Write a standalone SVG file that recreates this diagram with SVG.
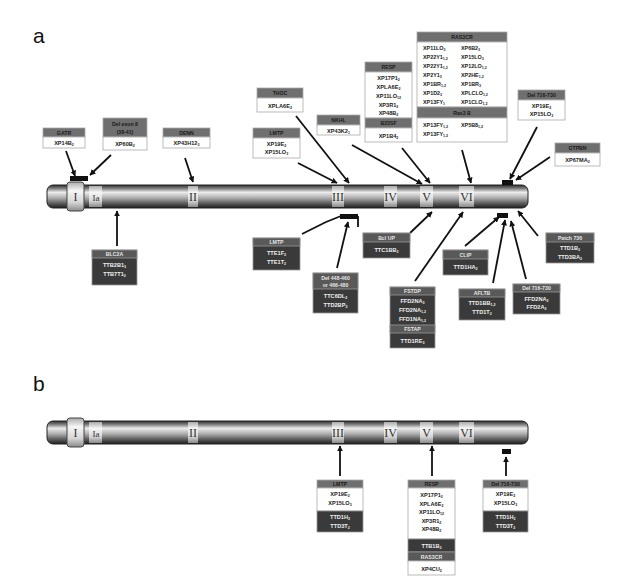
<svg xmlns="http://www.w3.org/2000/svg" xmlns:xlink="http://www.w3.org/1999/xlink" width="621" height="577" viewBox="0 0 621 577">
<style>
.lbl{font-family:"Liberation Sans",Arial,sans-serif;font-size:21px;fill:#111}
.hd{fill:#6f6f6f;stroke:#aaa;stroke-width:0.8}
.hdd{fill:#595959;stroke:#999;stroke-width:0.8}
.wb{fill:#fff;stroke:#aaa;stroke-width:0.8}
.db{fill:#3a3a3a;stroke:#999;stroke-width:0.8}
.ht{font-family:"Liberation Sans",Arial,sans-serif;font-weight:bold;font-size:5.2px;fill:#1a1a1a;text-anchor:middle}
.htl{font-family:"Liberation Sans",Arial,sans-serif;font-weight:bold;font-size:5.2px;fill:#e6e6e6;text-anchor:middle}
.bt{font-family:"Liberation Sans",Arial,sans-serif;font-weight:bold;font-size:5.6px;fill:#1a1a1a;text-anchor:middle}
.btl{font-family:"Liberation Sans",Arial,sans-serif;font-weight:bold;font-size:5.6px;fill:#eee;text-anchor:middle}
.bts{font-family:"Liberation Sans",Arial,sans-serif;font-weight:bold;font-size:5.4px;fill:#1a1a1a}
.s{font-size:3.6px}
.rn{font-family:"Liberation Serif","Times New Roman",serif;font-size:12px;fill:#333;text-anchor:middle}
.ar{stroke:#111;stroke-width:1.8;fill:none;marker-end:url(#ah)}
.ln{stroke:#111;stroke-width:1.8;fill:none}
.bar{fill:#111}
</style>
<defs>
<linearGradient id="gb" x1="0" y1="0" x2="0" y2="1">
<stop offset="0" stop-color="#2e2e2e"/>
<stop offset="0.14" stop-color="#777"/>
<stop offset="0.32" stop-color="#ececec"/>
<stop offset="0.55" stop-color="#b0b0b0"/>
<stop offset="0.82" stop-color="#555"/>
<stop offset="1" stop-color="#1e1e1e"/>
</linearGradient>
<linearGradient id="gband" x1="0" y1="0" x2="0" y2="1">
<stop offset="0" stop-color="#aaa"/>
<stop offset="0.3" stop-color="#f6f6f6"/>
<stop offset="0.7" stop-color="#d6d6d6"/>
<stop offset="1" stop-color="#8a8a8a"/>
</linearGradient>
<marker id="ah" viewBox="0 0 10 10" refX="9" refY="5" markerWidth="6" markerHeight="6" markerUnits="userSpaceOnUse" orient="auto">
<path d="M0,0 L10,5 L0,10 z" fill="#111"/>
</marker>
<g id="chromo">
<rect x="47" y="185" width="481" height="23" rx="6" fill="url(#gb)" stroke="#222" stroke-width="1"/>
<rect x="67" y="182" width="17" height="29" rx="3" fill="url(#gband)" stroke="#444" stroke-width="1"/>
<text class="rn" x="75.5" y="201">I</text>
<rect x="89" y="186" width="13" height="21" fill="url(#gband)"/>
<text class="rn" x="96" y="201" style="font-size:9px">Ia</text>
<rect x="188" y="186" width="10" height="21" fill="url(#gband)"/>
<text class="rn" x="193" y="201">II</text>
<rect x="332" y="186" width="12" height="21" fill="url(#gband)"/>
<text class="rn" x="338" y="201">III</text>
<rect x="384" y="186" width="13" height="21" fill="url(#gband)"/>
<text class="rn" x="390.5" y="201">IV</text>
<rect x="420" y="186" width="13" height="21" fill="url(#gband)"/>
<text class="rn" x="426.5" y="201">V</text>
<rect x="459" y="186" width="15" height="21" fill="url(#gband)"/>
<text class="rn" x="466.5" y="201">VI</text>
</g>
</defs>

<text class="lbl" x="33" y="43">a</text>
<text class="lbl" x="33" y="391">b</text>

<g id="chromosome-a"><use xlink:href="#chromo" href="#chromo"/></g>
<g id="chromosome-b"><use xlink:href="#chromo" href="#chromo" transform="translate(0,236)"/></g>

<g id="connectors">
<!-- a, above -->
<rect class="bar" x="70" y="176" width="18" height="5"/>
<line class="ar" x1="66" y1="151" x2="75" y2="176"/>
<line class="ar" x1="111" y1="155" x2="90" y2="175"/>
<line class="ar" x1="185" y1="158" x2="193" y2="182"/>
<line class="ar" x1="296" y1="116" x2="349" y2="183"/>
<line class="ar" x1="298" y1="163" x2="337" y2="183"/>
<line class="ar" x1="352" y1="145" x2="422" y2="184"/>
<line class="ar" x1="402" y1="148" x2="430" y2="183"/>
<line class="ar" x1="462" y1="150" x2="471" y2="183"/>
<rect class="bar" x="502" y="180" width="11" height="5"/>
<line class="ar" x1="537" y1="127" x2="510" y2="179"/>
<line class="ar" x1="550" y1="157" x2="516" y2="180"/>
<!-- a, below -->
<line class="ar" x1="117" y1="246" x2="117" y2="211"/>
<rect class="bar" x="340" y="214" width="18" height="5"/>
<polyline class="ln" points="302,234 326,222 341,216"/>
<line class="ln" x1="358" y1="216" x2="358" y2="227"/>
<line class="ar" x1="337" y1="268" x2="348" y2="222"/>
<line class="ar" x1="410" y1="233" x2="432" y2="212"/>
<line class="ar" x1="415" y1="281" x2="463" y2="212"/>
<rect class="bar" x="497" y="213" width="11" height="5"/>
<line class="ar" x1="465" y1="246" x2="499" y2="217"/>
<line class="ar" x1="493" y1="283" x2="505" y2="220"/>
<line class="ar" x1="526" y1="279" x2="511" y2="221"/>
<line class="ar" x1="538" y1="236" x2="518" y2="211"/>
<!-- b -->
<line class="ar" x1="340" y1="476" x2="340" y2="446"/>
<line class="ar" x1="432" y1="476" x2="432" y2="446"/>
<rect class="bar" x="502" y="449" width="9" height="5"/>
<line class="ar" x1="506" y1="476" x2="506" y2="457"/>
</g>

<!-- ===== a: boxes above ===== -->
<g id="box-gatr">
<rect class="hd" x="43" y="128" width="42" height="9"/>
<rect class="wb" x="43" y="137" width="42" height="11"/>
<text class="ht" x="64" y="134.5">GATR</text>
<text class="bt" x="64" y="145">XP14B<tspan class="s" dy="1.2">2</tspan></text>
</g>
<g id="box-delexon8">
<rect class="hd" x="103" y="118" width="44" height="19"/>
<rect class="wb" x="103" y="137" width="44" height="13"/>
<text class="ht" x="125" y="126">Del exon 8</text>
<text class="ht" x="125" y="133.5">(38-41)</text>
<text class="bt" x="125" y="146">XP60B<tspan class="s" dy="1.2">2</tspan></text>
</g>
<g id="box-denn">
<rect class="hd" x="163" y="128" width="47" height="9"/>
<rect class="wb" x="163" y="137" width="47" height="11"/>
<text class="ht" x="186.5" y="134.5">DENN</text>
<text class="bt" x="186.5" y="145">XP43H12<tspan class="s" dy="1.2">3</tspan></text>
</g>
<g id="box-thoc">
<rect class="hd" x="257" y="88" width="46" height="10"/>
<rect class="wb" x="257" y="98" width="46" height="14"/>
<text class="ht" x="280" y="95">THOC</text>
<text class="bt" x="280" y="107.5">XPLA6E<tspan class="s" dy="1.2">2</tspan></text>
</g>
<g id="box-lmtp-a">
<rect class="hd" x="253" y="128" width="47" height="10"/>
<rect class="wb" x="253" y="138" width="47" height="20"/>
<text class="ht" x="276.5" y="135">LMTP</text>
<text class="bt" x="276.5" y="146">XP19E<tspan class="s" dy="1.2">2</tspan></text>
<text class="bt" x="276.5" y="154">XP15LO<tspan class="s" dy="1.2">3</tspan></text>
</g>
<g id="box-nkhl">
<rect class="hd" x="317" y="115" width="43" height="10"/>
<rect class="wb" x="317" y="125" width="43" height="10"/>
<text class="ht" x="338.5" y="122">NKHL</text>
<text class="bt" x="338.5" y="132.5">XP43K2<tspan class="s" dy="1.2">1</tspan></text>
</g>
<g id="box-resp-a">
<rect class="hd" x="365" y="62" width="47" height="10"/>
<rect class="wb" x="365" y="72" width="47" height="46"/>
<rect class="hd" x="365" y="118" width="47" height="10"/>
<rect class="wb" x="365" y="128" width="47" height="14"/>
<text class="ht" x="388.5" y="69">RESP</text>
<text class="bt" x="388.5" y="80">XP17P1<tspan class="s" dy="1.2">2</tspan></text>
<text class="bt" x="388.5" y="89">XPLA6E<tspan class="s" dy="1.2">2</tspan></text>
<text class="bt" x="388.5" y="98">XP11LO<tspan class="s" dy="1.2">12</tspan></text>
<text class="bt" x="388.5" y="107">XP3R1<tspan class="s" dy="1.2">2</tspan></text>
<text class="bt" x="388.5" y="115">XP48B<tspan class="s" dy="1.2">2</tspan></text>
<text class="ht" x="388.5" y="125">B23SF</text>
<text class="bt" x="388.5" y="137.5">XP1B4<tspan class="s" dy="1.2">2</tspan></text>
</g>
<g id="box-ras3cr">
<rect class="hd" x="417" y="32" width="90" height="10"/>
<rect class="wb" x="417" y="42" width="90" height="65"/>
<rect class="hd" x="417" y="107" width="90" height="11"/>
<rect class="wb" x="417" y="118" width="90" height="24"/>
<text class="ht" x="462" y="39">RAS3CR</text>
<text class="bts" x="423" y="50">XP11LO<tspan class="s" dy="1.2">3</tspan></text>
<text class="bts" x="423" y="59">XP22Y1<tspan class="s" dy="1.2">1,2</tspan></text>
<text class="bts" x="423" y="68">XP22Y1<tspan class="s" dy="1.2">1,2</tspan></text>
<text class="bts" x="423" y="77">XP2Y1<tspan class="s" dy="1.2">3</tspan></text>
<text class="bts" x="423" y="86">XP1BR<tspan class="s" dy="1.2">1,2</tspan></text>
<text class="bts" x="423" y="95">XP1D2<tspan class="s" dy="1.2">3</tspan></text>
<text class="bts" x="423" y="104">XP13FY<tspan class="s" dy="1.2">1</tspan></text>
<text class="bts" x="461" y="50">XP6B2<tspan class="s" dy="1.2">3</tspan></text>
<text class="bts" x="461" y="59">XP15LO<tspan class="s" dy="1.2">3</tspan></text>
<text class="bts" x="461" y="68">XP12LO<tspan class="s" dy="1.2">1,2</tspan></text>
<text class="bts" x="461" y="77">XP2HE<tspan class="s" dy="1.2">1,2</tspan></text>
<text class="bts" x="461" y="86">XP1BR<tspan class="s" dy="1.2">3</tspan></text>
<text class="bts" x="461" y="95">XPLCLO<tspan class="s" dy="1.2">1,2</tspan></text>
<text class="bts" x="461" y="104">XP1CLO<tspan class="s" dy="1.2">1,2</tspan></text>
<text class="ht" x="462" y="115">Ras3 B</text>
<text class="bts" x="423" y="127">XP13FY<tspan class="s" dy="1.2">1,2</tspan></text>
<text class="bts" x="461" y="127">XP5B8<tspan class="s" dy="1.2">1,2</tspan></text>
<text class="bts" x="423" y="136">XP13FY<tspan class="s" dy="1.2">1,2</tspan></text>
</g>
<g id="box-del716-a">
<rect class="hd" x="518" y="90" width="47" height="10"/>
<rect class="wb" x="518" y="100" width="47" height="20"/>
<text class="ht" x="541.5" y="97">Del 716-730</text>
<text class="bt" x="541.5" y="108">XP19E<tspan class="s" dy="1.2">2</tspan></text>
<text class="bt" x="541.5" y="116">XP15LO<tspan class="s" dy="1.2">3</tspan></text>
</g>
<g id="box-gtpbn">
<rect class="hd" x="555" y="143" width="45" height="10"/>
<rect class="wb" x="555" y="153" width="45" height="13"/>
<text class="ht" x="577.5" y="150">GTPBN</text>
<text class="bt" x="577.5" y="162">XP67MA<tspan class="s" dy="1.2">2</tspan></text>
</g>

<!-- ===== a: boxes below ===== -->
<g id="box-blc2a">
<rect class="db" x="92" y="250" width="45" height="35"/>
<rect class="hdd" x="92" y="250" width="45" height="8"/>
<text class="htl" x="114.5" y="256">BLC2A</text>
<text class="btl" x="114.5" y="267">TTB2B1<tspan class="s" dy="1.2">3</tspan></text>
<text class="btl" x="114.5" y="276">TTB7T1<tspan class="s" dy="1.2">2</tspan></text>
</g>
<g id="box-lmtp-dark">
<rect class="db" x="253" y="238" width="47" height="32"/>
<rect class="hdd" x="253" y="238" width="47" height="8"/>
<text class="htl" x="276.5" y="244">LMTP</text>
<text class="btl" x="276.5" y="255">TTE1F<tspan class="s" dy="1.2">2</tspan></text>
<text class="btl" x="276.5" y="264">TTE1T<tspan class="s" dy="1.2">2</tspan></text>
</g>
<g id="box-del448">
<rect class="db" x="313" y="273" width="45" height="40"/>
<rect class="hdd" x="313" y="273" width="45" height="16"/>
<text class="htl" x="335.5" y="280">Del 448-460</text>
<text class="htl" x="335.5" y="287">or 466-480</text>
<text class="btl" x="335.5" y="298">TTC6DL<tspan class="s" dy="1.2">2</tspan></text>
<text class="btl" x="335.5" y="307">TTD2BP<tspan class="s" dy="1.2">2</tspan></text>
</g>
<g id="box-bclup">
<rect class="db" x="363" y="233" width="47" height="25"/>
<rect class="hdd" x="363" y="233" width="47" height="9"/>
<text class="htl" x="386.5" y="239.5">Bcl UP</text>
<text class="btl" x="386.5" y="252">TTC1BB<tspan class="s" dy="1.2">3</tspan></text>
</g>
<g id="box-fstdp">
<rect class="db" x="390" y="287" width="45" height="61"/>
<rect class="hdd" x="390" y="287" width="45" height="8"/>
<rect class="hdd" x="390" y="325" width="45" height="8"/>
<text class="htl" x="412.5" y="293">FSTDP</text>
<text class="btl" x="412.5" y="303">FFD2NA<tspan class="s" dy="1.2">3</tspan></text>
<text class="btl" x="412.5" y="312">FFD2NA<tspan class="s" dy="1.2">1,2</tspan></text>
<text class="btl" x="412.5" y="321">FFD1NA<tspan class="s" dy="1.2">1,2</tspan></text>
<text class="htl" x="412.5" y="331">FSTAP</text>
<text class="btl" x="412.5" y="343">TTD1RE<tspan class="s" dy="1.2">3</tspan></text>
</g>
<g id="box-clip">
<rect class="db" x="443" y="250" width="45" height="25"/>
<rect class="hdd" x="443" y="250" width="45" height="9"/>
<text class="htl" x="465.5" y="256.5">CLIP</text>
<text class="btl" x="465.5" y="269">TTD1HA<tspan class="s" dy="1.2">2</tspan></text>
</g>
<g id="box-afltb">
<rect class="db" x="459" y="289" width="46" height="31"/>
<rect class="hdd" x="459" y="289" width="46" height="8"/>
<text class="htl" x="482" y="295">AFLTB</text>
<text class="btl" x="482" y="305">TTD1BB<tspan class="s" dy="1.2">1,2</tspan></text>
<text class="btl" x="482" y="314">TTD1T<tspan class="s" dy="1.2">2</tspan></text>
</g>
<g id="box-del716-dark">
<rect class="db" x="513" y="284" width="47" height="30"/>
<rect class="hdd" x="513" y="284" width="47" height="8"/>
<text class="htl" x="536.5" y="290">Del 716-730</text>
<text class="btl" x="536.5" y="301">FFD2NA<tspan class="s" dy="1.2">2</tspan></text>
<text class="btl" x="536.5" y="309">FFD2A<tspan class="s" dy="1.2">2</tspan></text>
</g>
<g id="box-patch736">
<rect class="db" x="546" y="233" width="48" height="30"/>
<rect class="hdd" x="546" y="233" width="48" height="9"/>
<text class="htl" x="570" y="239.5">Patch 736</text>
<text class="btl" x="570" y="250">TTD1B<tspan class="s" dy="1.2">3</tspan></text>
<text class="btl" x="570" y="259">TTD3BA<tspan class="s" dy="1.2">2</tspan></text>
</g>

<!-- ===== b: boxes ===== -->
<g id="box-lmtp-b">
<rect class="hd" x="317" y="480" width="46" height="8"/>
<rect class="wb" x="317" y="488" width="46" height="23"/>
<rect class="db" x="317" y="511" width="46" height="21"/>
<text class="ht" x="340" y="486">LMTP</text>
<text class="bt" x="340" y="496">XP19E<tspan class="s" dy="1.2">2</tspan></text>
<text class="bt" x="340" y="505">XP15LO<tspan class="s" dy="1.2">3</tspan></text>
<text class="btl" x="340" y="519">TTD1H<tspan class="s" dy="1.2">2</tspan></text>
<text class="btl" x="340" y="528">TTD3T<tspan class="s" dy="1.2">2</tspan></text>
</g>
<g id="box-resp-b">
<rect class="hd" x="408" y="480" width="47" height="8"/>
<rect class="wb" x="408" y="488" width="47" height="51"/>
<rect class="db" x="408" y="539" width="47" height="13"/>
<rect class="hdd" x="408" y="552" width="47" height="9"/>
<rect class="wb" x="408" y="561" width="47" height="14"/>
<text class="ht" x="431.5" y="486">RESP</text>
<text class="bt" x="431.5" y="497">XP17P1<tspan class="s" dy="1.2">2</tspan></text>
<text class="bt" x="431.5" y="505.5">XPLA6E<tspan class="s" dy="1.2">2</tspan></text>
<text class="bt" x="431.5" y="514">XP11LO<tspan class="s" dy="1.2">12</tspan></text>
<text class="bt" x="431.5" y="522.5">XP3R1<tspan class="s" dy="1.2">2</tspan></text>
<text class="bt" x="431.5" y="531">XP48B<tspan class="s" dy="1.2">2</tspan></text>
<text class="btl" x="431.5" y="547.5">TTB1B<tspan class="s" dy="1.2">3</tspan></text>
<text class="htl" x="431.5" y="558.5">RAS3CR</text>
<text class="bt" x="431.5" y="570.5">XP4CU<tspan class="s" dy="1.2">2</tspan></text>
</g>
<g id="box-del716-b">
<rect class="hd" x="483" y="480" width="45" height="8"/>
<rect class="wb" x="483" y="488" width="45" height="23"/>
<rect class="db" x="483" y="511" width="45" height="21"/>
<text class="ht" x="505.5" y="486">Del 716-730</text>
<text class="bt" x="505.5" y="496">XP19E<tspan class="s" dy="1.2">2</tspan></text>
<text class="bt" x="505.5" y="505">XP15LO<tspan class="s" dy="1.2">3</tspan></text>
<text class="btl" x="505.5" y="519">TTD1H<tspan class="s" dy="1.2">2</tspan></text>
<text class="btl" x="505.5" y="528">TTD3T<tspan class="s" dy="1.2">2</tspan></text>
</g>
</svg>
